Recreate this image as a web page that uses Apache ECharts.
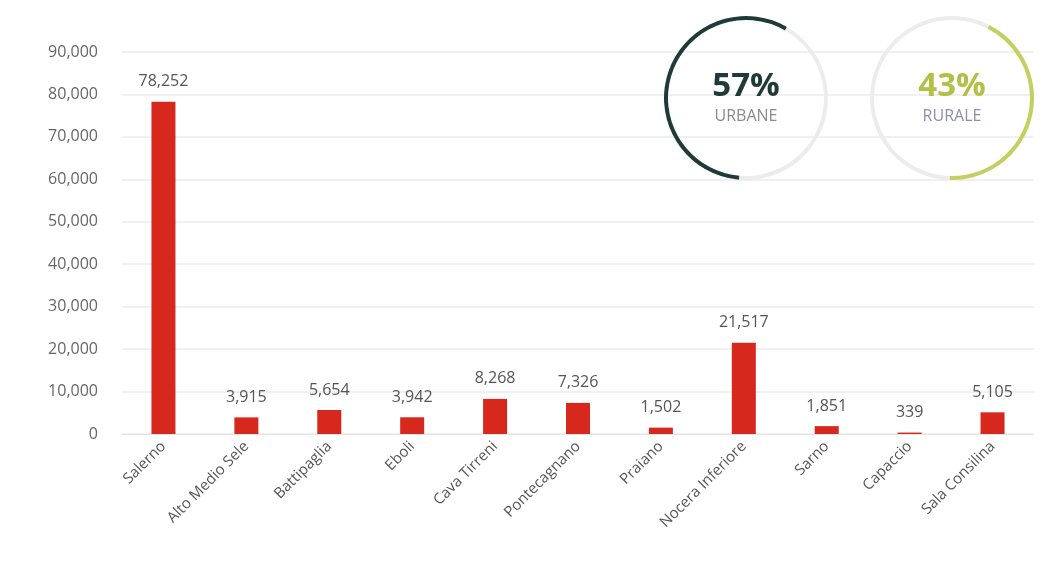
<!DOCTYPE html>
<html>
<head>
<meta charset="utf-8">
<script src="https://cdn.jsdelivr.net/npm/echarts@6/dist/echarts.min.js"></script>
<style>
  html, body { margin: 0; padding: 0; background: #fff; }
  #chart { width: 1045px; height: 564px; }
</style>
</head>
<body>
<div id="chart"></div>
<script>
// categories (rotated x labels)
const zones = ['Salerno', 'Alto Medio Sele', 'Battipaglia', 'Eboli', 'Cava Tirreni', 'Pontecagnano', 'Praiano', 'Nocera Inferiore', 'Sarno', 'Capaccio', 'Sala Consilina'];
// residents per zone
const residents = [78252, 3915, 5654, 3942, 8268, 7326, 1502, 21517, 1851, 339, 5105];
// urban / rural share in percent
const ringValues = [57, 43];
const ringLabels = ['URBANE', 'RURALE'];
const ringColors = ['#1f3b39', '#c3cf5e'];
const ringText = ['#1f3b39', '#b3bf45'];
const ringSub = ['#8a8a8a', '#8a8fb0'];

const fmt = v => v.toLocaleString('en-US');

const chart = echarts.init(document.getElementById('chart'));

const ring = (i, center, startAngle, clockwise) => ({
  type: 'pie',
  silent: true,
  center: center,
  radius: [78, 82],
  startAngle: startAngle,
  clockwise: clockwise,
  avoidLabelOverlap: false,
  labelLine: { show: false },
  data: [
    {
      value: ringValues[i],
      itemStyle: { color: ringColors[i] },
      label: {
        show: true,
        position: 'center',
        formatter: '{a|' + ringValues[i] + '%}\n{b|' + ringLabels[i] + '}',
        rich: {
          a: { fontFamily: 'Open Sans', fontSize: 33, fontWeight: 'bold', color: ringText[i], lineHeight: 36 },
          b: { fontFamily: 'Open Sans', fontSize: 16, color: ringSub[i], lineHeight: 22 }
        }
      }
    },
    { value: 100 - ringValues[i], itemStyle: { color: '#ececec' }, label: { show: false } }
  ]
});

chart.setOption({
  animation: false,
  grid: { left: 122, right: 11, top: 52, bottom: 130 },
  xAxis: {
    type: 'category',
    data: zones,
    axisLine: { lineStyle: { color: '#e4e4e4' } },
    axisTick: { show: false },
    axisLabel: { rotate: 45, color: '#555', fontFamily: 'Open Sans', fontSize: 15, interval: 0, margin: 10 }
  },
  yAxis: {
    type: 'value',
    min: 0,
    max: 90000,
    interval: 10000,
    axisLine: { show: false },
    axisTick: { show: false },
    axisLabel: { color: '#666', fontFamily: 'Open Sans', fontSize: 16, margin: 24, formatter: v => fmt(v) },
    splitLine: { lineStyle: { color: '#f0f0f0', width: 2 } }
  },
  series: [
    {
      type: 'bar',
      data: residents,
      barWidth: 24,
      itemStyle: { color: '#d6281d' },
      label: {
        show: true,
        position: 'top',
        distance: 12,
        color: '#555',
        fontFamily: 'Open Sans',
        fontSize: 16,
        formatter: p => fmt(p.value)
      }
    },
    ring(0, [746, 98], 60, false),
    ring(1, [952, 98], 63, true)
  ]
});
</script>
</body>
</html>
